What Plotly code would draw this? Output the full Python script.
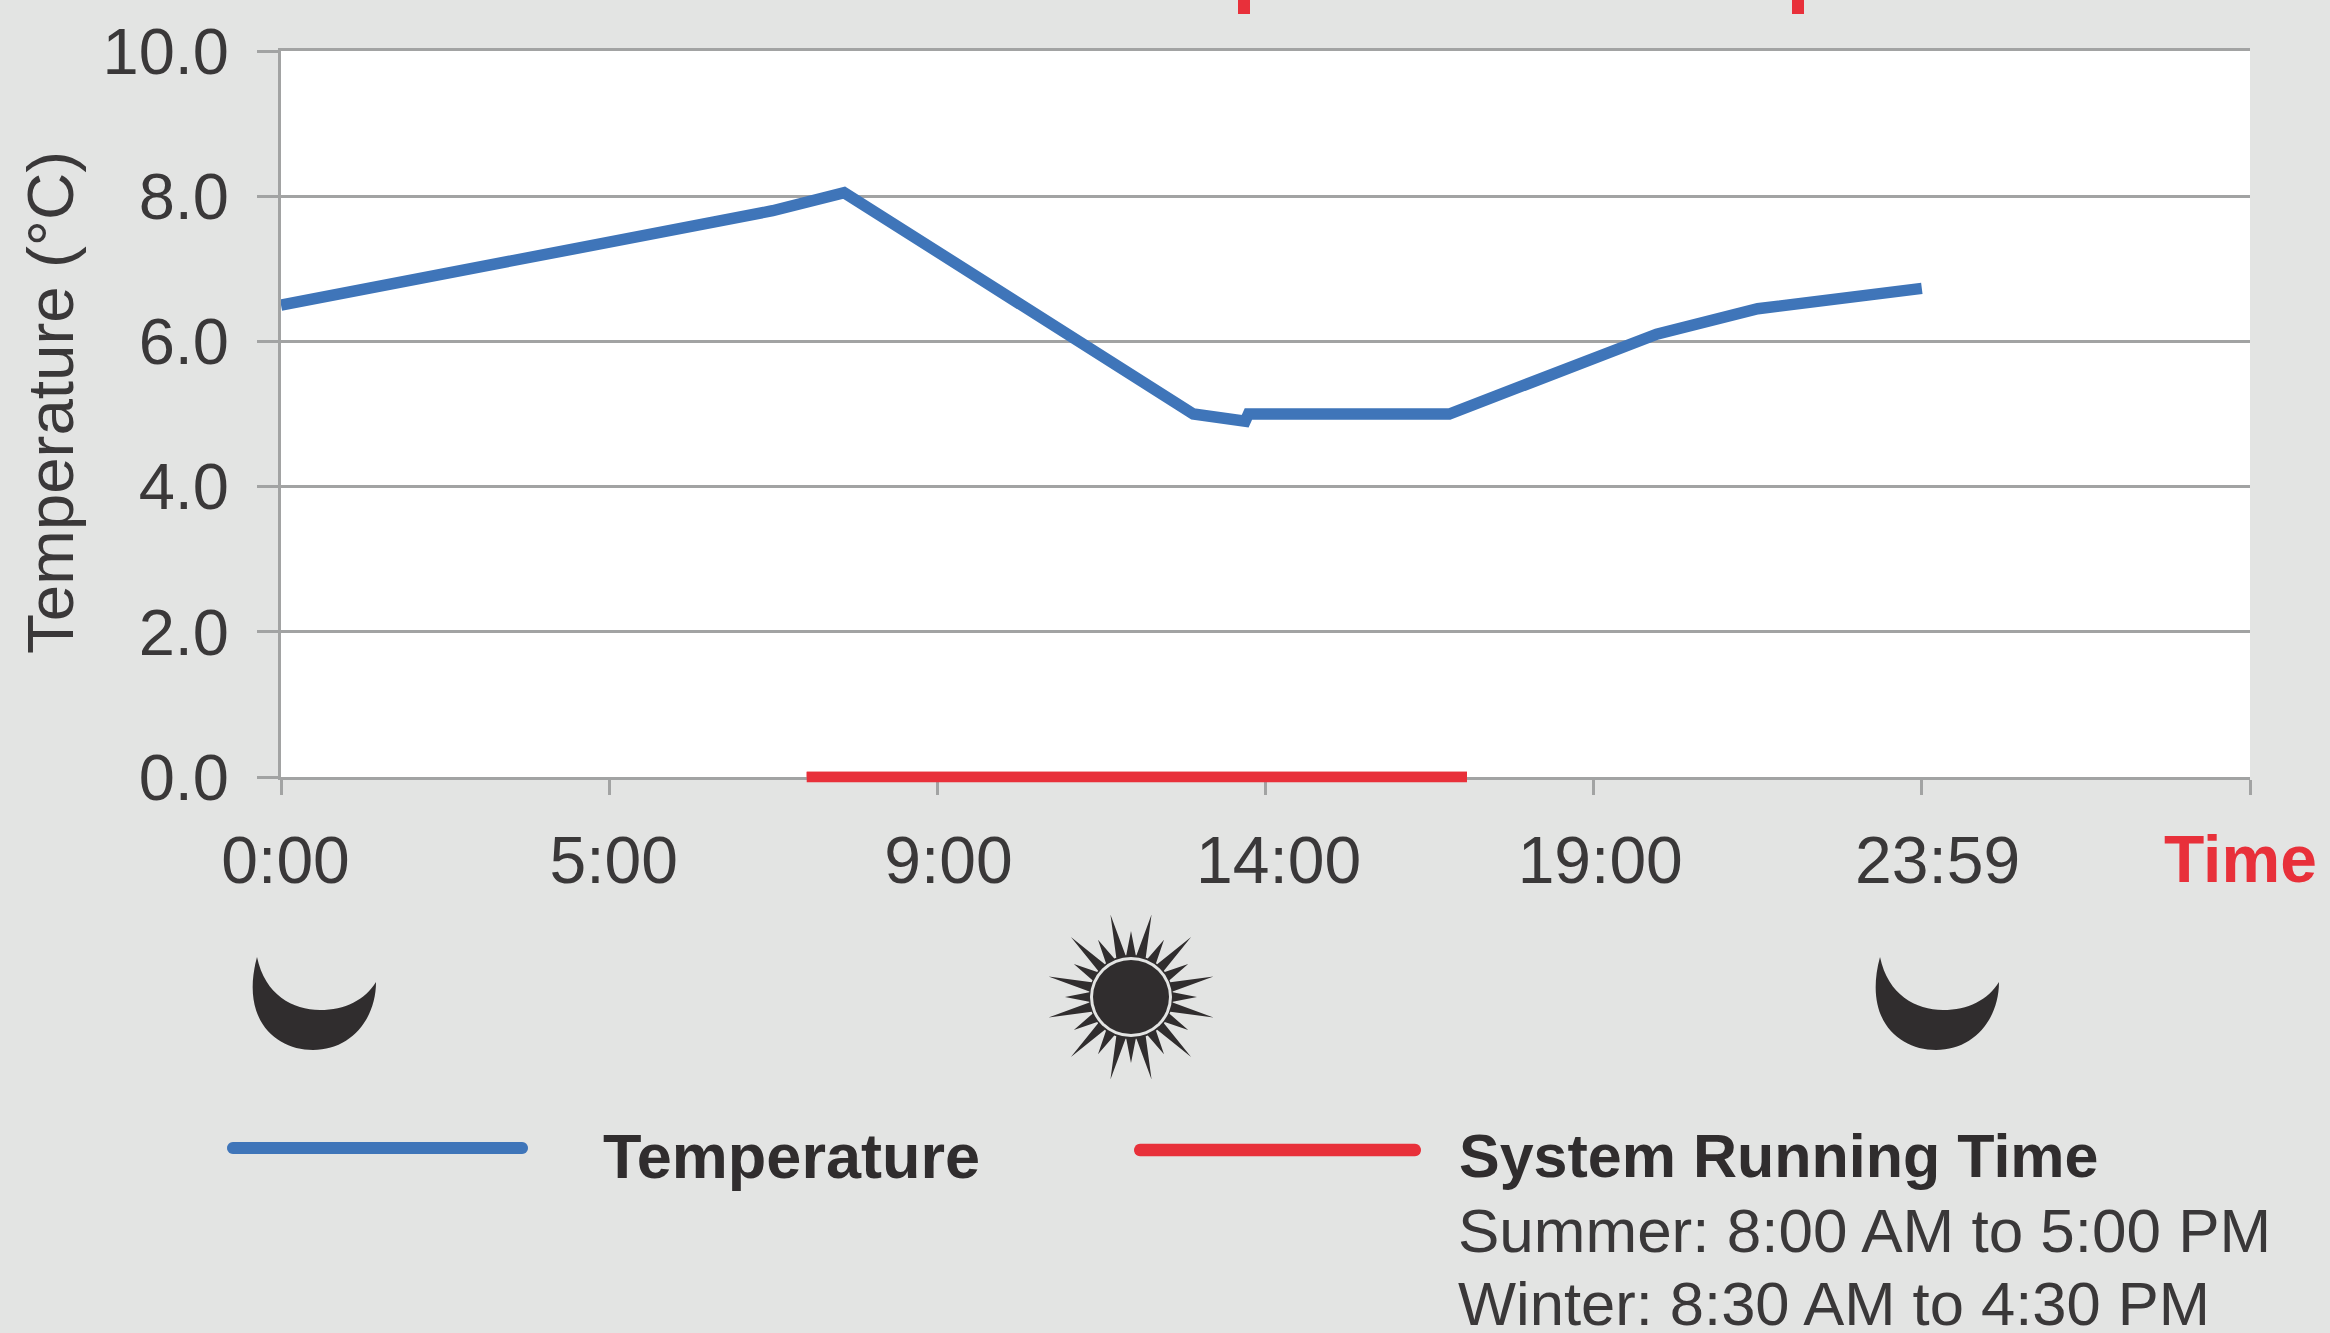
import math
import plotly.graph_objects as go

W, H = 2330, 1333
L, R, T, B = 281, 2250, 51, 777

time_pos = [0, 7.49, 8.58, 13.9, 14.69, 14.74, 17.8, 20.96, 22.5, 25]
temperature = [6.5, 7.8, 8.05, 5.0, 4.9, 5.0, 5.0, 6.1, 6.45, 6.73]
run_pos = [8.01, 18.07]
run_val = [0, 0]
tick_marks = [0, 5, 10, 15, 20, 25, 30]
label_pos = [0.07, 5.07, 10.17, 15.2, 20.1, 25.24]
tick_labels = ["0:00", "5:00", "9:00", "14:00", "19:00", "23:59"]
y_ticks = [0, 2, 4, 6, 8, 10]
y_labels = ["0.0", "2.0", "4.0", "6.0", "8.0", "10.0"]

BG = "#e3e4e3"
GRID = "#a2a3a3"
BLUE = "#3f75b9"
RED = "#e8303a"
TXT = "#3a3839"
DARK = "#302d2e"
FONT = "Liberation Sans"


def px(x):
    return (x - L) / (R - L)


def py(y):
    return (B - y) / (B - T)


def pt(x, y):
    return f"{px(x):.5f},{py(y):.5f}"


def path(points):
    return "M" + " L".join(pt(x, y) for x, y in points) + " Z"


def pill(x0, x1, y, w):
    r = w / 2
    pts = []
    for i in range(13):
        a = math.radians(90 + i * 15)
        pts.append((x0 + r + r * math.cos(a), y + r * math.sin(a)))
    for i in range(13):
        a = math.radians(-90 + i * 15)
        pts.append((x1 - r + r * math.cos(a), y + r * math.sin(a)))
    return path(pts)


def moon(d):
    return (
        f"M{pt(257 + d, 957)}"
        f" C{pt(240 + d, 1020)} {pt(276 + d, 1050)} {pt(313 + d, 1050)}"
        f" C{pt(350 + d, 1050)} {pt(376 + d, 1020)} {pt(376 + d, 982)}"
        f" C{pt(365 + d, 1000)} {pt(345 + d, 1010)} {pt(320 + d, 1010)}"
        f" C{pt(293 + d, 1010)} {pt(265 + d, 995)} {pt(257 + d, 957)} Z"
    )


def sun(cx, cy):
    pts = []
    n = 24
    for i in range(n):
        long = i % 2 == 1
        a = -90 + i * 15 + (-1 if i % 6 == 1 else (1 if i % 6 == 5 else 0))
        r = 85 if long else 66
        half = 6.5
        pts.append((cx + 42 * math.cos(math.radians(a - half)), cy + 42 * math.sin(math.radians(a - half))))
        pts.append((cx + r * math.cos(math.radians(a)), cy + r * math.sin(math.radians(a))))
        pts.append((cx + 42 * math.cos(math.radians(a + half)), cy + 42 * math.sin(math.radians(a + half))))
    return path(pts)


fig = go.Figure()
fig.add_trace(go.Scatter(x=time_pos, y=temperature, mode="lines", name="Temperature",
                         line=dict(color=BLUE, width=11.5), showlegend=False))
fig.add_trace(go.Scatter(x=run_pos, y=run_val, mode="lines", name="System Running Time",
                         line=dict(color=RED, width=10.5), showlegend=False))


def shape_path(p, fill):
    return dict(type="path", xref="paper", yref="paper", path=p, fillcolor=fill, line=dict(width=0), layer="above")


def rect(x0, x1, y0, y1, fill):
    return dict(type="rect", xref="paper", yref="paper", x0=px(x0), x1=px(x1), y0=py(y0), y1=py(y1),
                fillcolor=fill, line=dict(width=0))


shapes = [
    rect(1238, 1250, 0, 14, RED),
    rect(1792, 1804, 0, 14, RED),
    # the running-time bar straddles the axis line, so its lower half needs an unclipped copy
    dict(type="line", xref="x", yref="paper", x0=run_pos[0], x1=run_pos[1], y0=0, y1=0,
         line=dict(color=RED, width=10.5), layer="above"),
    shape_path(pill(227, 528, 1148, 12), BLUE),
    shape_path(pill(1134, 1421, 1150, 12.5), RED),
    shape_path(moon(0), DARK),
    shape_path(moon(1623), DARK),
    shape_path(sun(1131, 997), DARK),
    dict(type="circle", xref="paper", yref="paper", x0=px(1131 - 41), x1=px(1131 + 41),
         y0=py(997 - 40), y1=py(997 + 40), fillcolor=BG, line=dict(width=0)),
    dict(type="circle", xref="paper", yref="paper", x0=px(1131 - 38), x1=px(1131 + 38),
         y0=py(997 - 37), y1=py(997 + 37), fillcolor=DARK, line=dict(width=0)),
]


def note(text, x, y, size, color, bold=False, xanchor="left", textangle=0):
    return dict(text=f"<b>{text}</b>" if bold else text, xref="paper", yref="paper", x=px(x), y=py(y),
                xanchor=xanchor, yanchor="middle", showarrow=False, textangle=textangle,
                font=dict(family=FONT, size=size, color=color))


annotations = [
    note("Temperature (°C)", 50, 403, 65.5, TXT, xanchor="center", textangle=-90),
    note("Time", 2162, 859, 66, RED, bold=True),
    note("Temperature", 601, 1156, 63, DARK, bold=True),
    note("System Running Time", 1457, 1156, 61, DARK, bold=True),
    note("Summer: 8:00 AM to 5:00 PM", 1456, 1230, 62, TXT),
    note("Winter: 8:30 AM to 4:30 PM", 1456, 1304, 61.5, TXT),
]

fig.update_layout(
    width=W, height=H, autosize=False,
    margin=dict(l=L, r=W - R, t=T, b=H - B, pad=0),
    paper_bgcolor=BG, plot_bgcolor="white",
    showlegend=False, shapes=shapes, annotations=annotations,
    xaxis=dict(range=[0, 30], showgrid=False, zeroline=False, showline=True, linecolor=GRID, linewidth=3,
               mirror=True, tickmode="array", tickvals=label_pos, ticktext=tick_labels, ticks="",
               ticklabelstandoff=24,
               tickfont=dict(family=FONT, size=66, color=TXT),
               minor=dict(tickmode="array", tickvals=tick_marks, ticks="outside", ticklen=15,
                          tickwidth=3, tickcolor=GRID, showgrid=False)),
    yaxis=dict(range=[0, 10], showgrid=True, gridcolor=GRID, gridwidth=3, zeroline=False, showline=True,
               linecolor=GRID, linewidth=3, tickmode="array", tickvals=y_ticks, ticktext=y_labels,
               ticks="outside", ticklen=21, tickwidth=3, tickcolor=GRID,
               ticklabelstandoff=15,
               tickfont=dict(family=FONT, size=65, color=TXT)),
)

fig.write_html("out.html", config=dict(displayModeBar=False),
               post_script="document.body.style.margin='0';document.body.style.overflow='hidden';")
